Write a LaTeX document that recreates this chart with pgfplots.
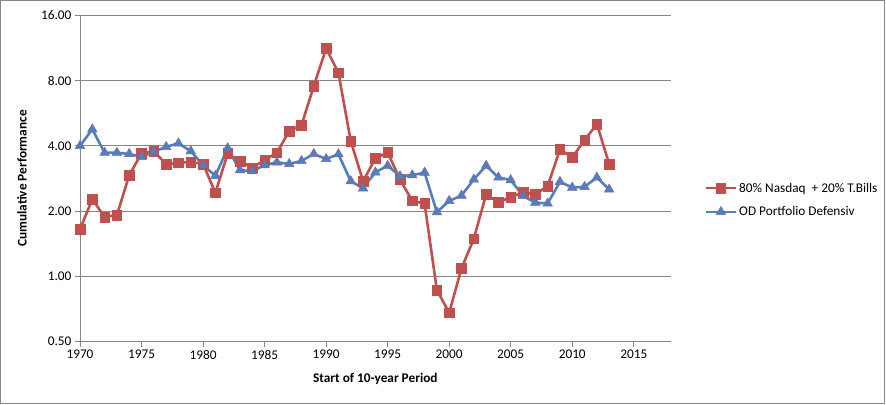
\documentclass[border=0pt]{standalone}
\usepackage{fontspec}
\setmainfont{Carlito}
\usepackage{pgfplots}
\pgfplotsset{compat=1.18}
\definecolor{xred}{HTML}{C0504D}
\definecolor{xblue}{HTML}{4F81BD}
\definecolor{xgrid}{HTML}{868686}
\definecolor{xedge}{HTML}{8064A2}
\begin{document}
\begin{tikzpicture}
\useasboundingbox (0bp,0bp) rectangle (886bp,405bp);
\draw[xgrid,line width=0.75bp] (0.5bp,1.5bp) rectangle (884.5bp,404.5bp);
\begin{axis}[
  at={(80bp,63.3bp)}, anchor=south west,
  scale only axis, width=590.7bp, height=326.4bp,
  font=\fontsize{13.3bp}{16bp}\selectfont,
  xmin=1970, xmax=2018,
  ymode=log, log basis y=2, ymin=0.5, ymax=16,
  xtick={1970,1975,...,2015},
  ytick={0.5,1,2,4,8,16},
  yticklabels={0.50,1.00,2.00,4.00,8.00,16.00},
  x tick label style={/pgf/number format/1000 sep={}, /pgf/number format/assume math mode=true},
  axis lines*=left,
  axis line style={xgrid, line width=0.75bp},
  tick style={xgrid, line width=0.75bp},
  tick align=outside, major tick length=5bp,
  ymajorgrids, major grid style={xgrid, line width=0.75bp},
  xlabel={\bfseries Start of 10-year Period},
  ylabel={\bfseries Cumulative Performance},
  xlabel style={at={(axis description cs:0.5,-0.114)}, anchor=center},
  ylabel style={at={(axis description cs:-0.098,0.5)}, anchor=center},
  legend style={at={(axis description cs:1.052,0.434)}, anchor=west, draw=none, fill=none,
    font=\fontsize{13.3bp}{16bp}\selectfont, row sep=9bp, cells={anchor=west}},
  legend cell align=left,
  legend image code/.code={\draw[mark repeat=2,mark phase=2] plot coordinates {(0bp,0bp) (15bp,0bp) (30bp,0bp)};},
  clip=false,
]
\addplot[color=xred, line width=2.6bp, mark=square*, mark size=4.8bp, mark options={fill=xred, draw=xred, line width=0.5bp}]
coordinates {
(1970,1.65) (1971,2.27) (1972,1.88) (1973,1.92) (1974,2.93) (1975,3.69) (1976,3.78) (1977,3.29) (1978,3.34) (1979,3.37)
(1980,3.30) (1981,2.43) (1982,3.69) (1983,3.40) (1984,3.17) (1985,3.44) (1986,3.72) (1987,4.68) (1988,4.99) (1989,7.55)
(1990,11.26) (1991,8.69) (1992,4.21) (1993,2.75) (1994,3.50) (1995,3.73) (1996,2.80) (1997,2.23) (1998,2.17) (1999,0.866)
(2000,0.68) (2001,1.09) (2002,1.49) (2003,2.39) (2004,2.20) (2005,2.32) (2006,2.44) (2007,2.39) (2008,2.61) (2009,3.85)
(2010,3.54) (2011,4.25) (2012,5.04) (2013,3.30)
};
\addlegendentry{80\% Nasdaq~~+ 20\% T.Bills}
\addplot[color=xblue, line width=2.6bp, mark=triangle*, mark size=5.5bp, mark options={fill=xblue, draw=xedge, line width=0.5bp}]
coordinates {
(1970,4.00) (1971,4.77) (1972,3.72) (1973,3.72) (1974,3.67) (1975,3.56) (1976,3.76) (1977,3.96) (1978,4.11) (1979,3.78)
(1980,3.26) (1981,2.91) (1982,3.90) (1983,3.09) (1984,3.06) (1985,3.26) (1986,3.36) (1987,3.30) (1988,3.41) (1989,3.67)
(1990,3.48) (1991,3.66) (1992,2.75) (1993,2.55) (1994,3.02) (1995,3.24) (1996,2.90) (1997,2.93) (1998,3.01) (1999,1.98)
(2000,2.23) (2001,2.36) (2002,2.80) (2003,3.24) (2004,2.86) (2005,2.78) (2006,2.35) (2007,2.19) (2008,2.17) (2009,2.73)
(2010,2.57) (2011,2.59) (2012,2.86) (2013,2.52)
};
\addlegendentry{OD Portfolio Defensiv}
\end{axis}
\end{tikzpicture}
\end{document}
